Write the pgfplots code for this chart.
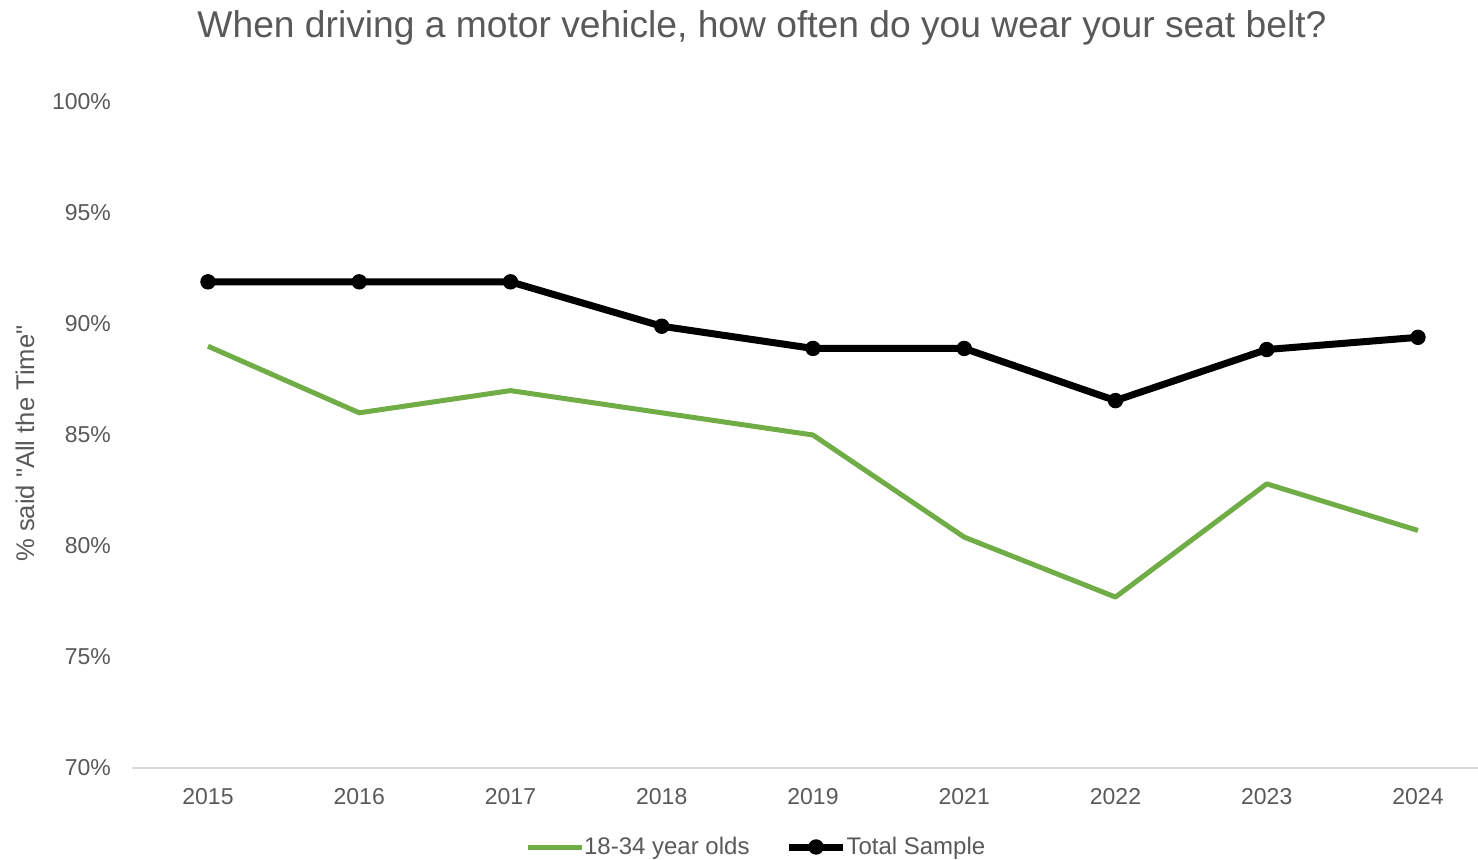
\documentclass[border=0pt]{standalone}
\usepackage{pgfplots}
\pgfplotsset{compat=1.18}
\usepackage{fontspec}
\setmainfont{Liberation Sans}
\newfontfamily\nomap{Liberation Sans}[Ligatures=TeXOff]
\definecolor{txt}{HTML}{595959}
\definecolor{grn}{HTML}{70AD47}
\definecolor{axl}{HTML}{D9D9D9}
\begin{document}
\begin{tikzpicture}
\path[use as bounding box] (0,0) rectangle (739pt,429.5pt);
\node[text=txt, font=\fontsize{18.6}{22}\selectfont] at (381pt,415.5pt) {When driving a motor vehicle, how often do you wear your seat belt?};
\begin{axis}[
  at={(66pt,45.5pt)}, anchor=south west,
  scale only axis, width=673pt, height=333pt,
  xmin=-0.5025, xmax=8.397, ymin=70, ymax=100,
  xtick={0,1,2,3,4,5,6,7,8},
  xticklabels={2015,2016,2017,2018,2019,2021,2022,2023,2024},
  ytick={70,75,80,85,90,95,100},
  yticklabel={\pgfmathprintnumber{\tick}\%},
  /pgf/number format/assume math mode=true,
  axis x line*=bottom, axis y line*=left,
  x axis line style={draw=axl, line width=0.8pt, -},
  y axis line style={draw=none},
  major tick length=0pt,
  tick label style={text=txt, font=\fontsize{11.5}{14}\selectfont},
  xticklabel style={yshift=-6.5pt},
  yticklabel style={xshift=-7pt},
  ylabel={{\nomap\% said "All the Time"}},
  ylabel style={at={(axis description cs:-0.0795,0.487)}, anchor=center, text=txt, font=\fontsize{12.8}{14}\selectfont},
  legend columns=2,
  legend style={at={(axis description cs:0.4645,-0.1186)}, anchor=center, draw=none, fill=none,
    font=\fontsize{12}{14}\selectfont, text=txt, /tikz/every even column/.append style={column sep=16pt},
    /tikz/every odd column/.append style={column sep=-2pt}},
  legend image code/.code={\draw[#1] (0pt,0pt) -- (27pt,0pt); \draw[#1, only marks] plot coordinates {(13.5pt,0pt)};},
  clip=false,
]
\addplot[grn, line width=2.5pt, line join=round, no marks] coordinates {
(0,89) (1,86) (2,87) (3,86) (4,85) (5,80.4) (6,77.7) (7,82.8) (8,80.7)};
\addlegendentry{18-34 year olds}
\addplot[black, line width=3.5pt, line join=round, mark=*, mark size=3.6pt, mark options={line width=0.5pt}] coordinates {
(0,91.9) (1,91.9) (2,91.9) (3,89.9) (4,88.9) (5,88.9) (6,86.55) (7,88.85) (8,89.4)};
\addlegendentry{Total Sample}
\end{axis}
\end{tikzpicture}
\end{document}
